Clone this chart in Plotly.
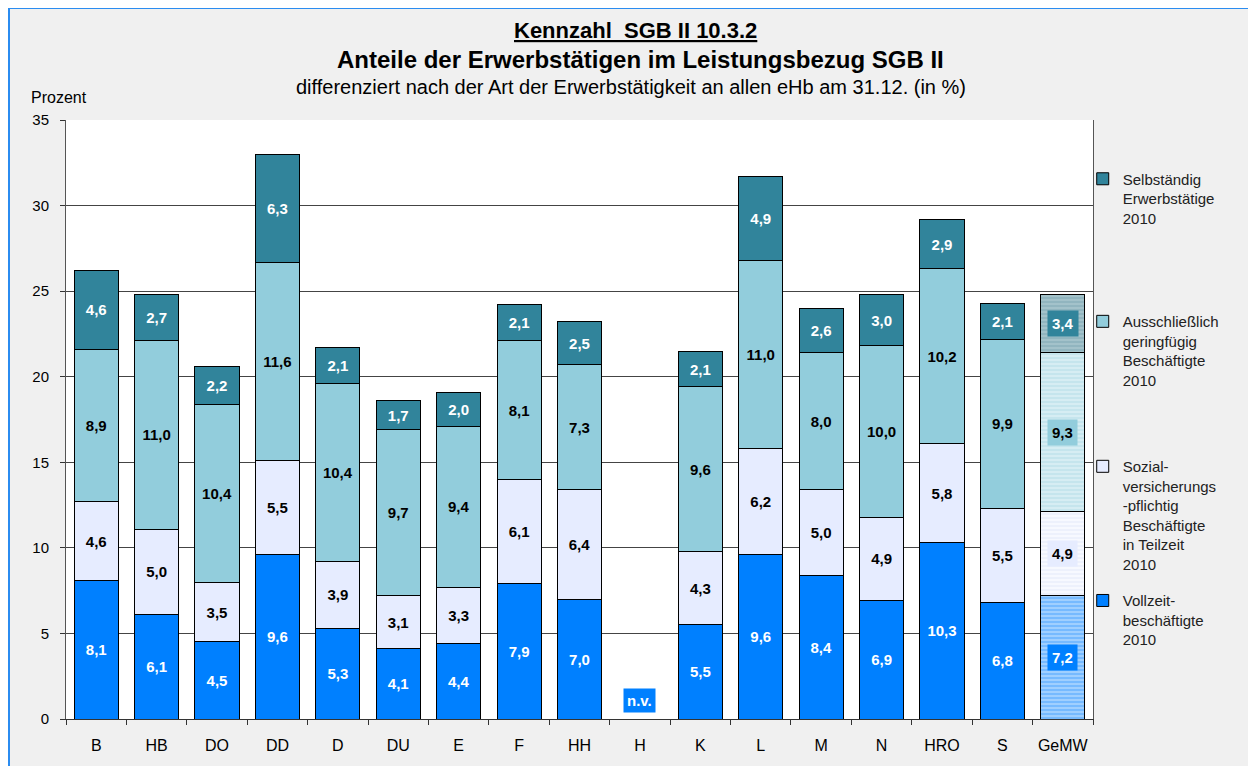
import plotly.graph_objects as go

cats = ['B', 'HB', 'DO', 'DD', 'D', 'DU', 'E', 'F', 'HH', 'H', 'K', 'L', 'M', 'N', 'HRO', 'S', 'GeMW']
vollzeit = [8.1, 6.1, 4.5, 9.6, 5.3, 4.1, 4.4, 7.9, 7.0, None, 5.5, 9.6, 8.4, 6.9, 10.3, 6.8, 7.2]
teilzeit = [4.6, 5.0, 3.5, 5.5, 3.9, 3.1, 3.3, 6.1, 6.4, None, 4.3, 6.2, 5.0, 4.9, 5.8, 5.5, 4.9]
geringf = [8.9, 11.0, 10.4, 11.6, 10.4, 9.7, 9.4, 8.1, 7.3, None, 9.6, 11.0, 8.0, 10.0, 10.2, 9.9, 9.3]
selbst = [4.6, 2.7, 2.2, 6.3, 2.1, 1.7, 2.0, 2.1, 2.5, None, 2.1, 4.9, 2.6, 3.0, 2.9, 2.1, 3.4]

names = ['Vollzeit-<br>beschäftigte<br>2010',
         'Sozial-<br>versicherungs<br>-pflichtig<br>Beschäftigte<br>in Teilzeit<br>2010',
         'Ausschließlich<br>geringfügig<br>Beschäftigte<br>2010',
         'Selbständig<br>Erwerbstätige<br>2010']

FONT = 'Liberation Sans, Arial, sans-serif'
series = [
    # values, color, text color, stripe bg, stripe fg, legend, legend y
    (vollzeit, '#0080FF', 'white', '#9FCFFF', '#4DA6FF', 'legend4', 0.225),
    (teilzeit, '#E6ECFF', 'black', '#F7F9FF', '#E3EAFA', 'legend3', 0.449),
    (geringf, '#92CDDC', 'black', '#D6EDF3', '#B4DDE8', 'legend2', 0.691),
    (selbst, '#31849B', 'white', '#A3C2CA', '#7FA8B3', 'legend', 0.929),
]


def fmt(v):
    return '' if v is None else f'{v:.1f}'.replace('.', ',')


def py(px):
    # page pixel row -> paper y (plot area spans rows 120..719)
    return (719 - px) / 599


def px_(px):
    # page pixel column -> paper x (plot area spans columns 66..1093)
    return (px - 66) / 1027


fig = go.Figure()
for (vals, col, tcol, sbg, sfg, leg, ly), nm in zip(series, names):
    fig.add_trace(go.Bar(
        x=cats[:-1], y=vals[:-1], name=nm, legend=leg,
        marker=dict(color=col, line=dict(color='black', width=1)),
        text=[fmt(v) for v in vals[:-1]], textposition='inside',
        insidetextanchor='middle', textangle=0, constraintext='none',
        textfont=dict(family=FONT, size=15, color=tcol, weight='bold'),
    ))
for (vals, col, tcol, sbg, sfg, leg, ly), nm in zip(series, names):
    fig.add_trace(go.Bar(
        x=cats[-1:], y=vals[-1:], showlegend=False,
        marker=dict(color=sbg, line=dict(color='black', width=1),
                    pattern=dict(shape='-', fgcolor=sfg, size=4, solidity=0.5)),
    ))

# boxed labels on the GeMW bar
base = 0
for vals, col, tcol, *_ in series:
    v = vals[-1]
    fig.add_annotation(x='GeMW', y=base + v / 2, text='<b>' + fmt(v) + '</b>',
                       showarrow=False, bgcolor=col, borderpad=4,
                       font=dict(family=FONT, size=15, color=tcol))
    base += v

fig.add_annotation(x='H', y=1.1, text='<b>n.v.</b>', showarrow=False,
                   bgcolor='#0080FF', borderpad=3,
                   font=dict(family=FONT, size=15, color='white'))

# titles
fig.add_annotation(xref='paper', yref='paper', x=px_(635), y=py(31), yanchor='middle',
                   text='<u><b>Kennzahl\u00a0\u00a0SGB II 10.3.2</b></u>', showarrow=False,
                   font=dict(family=FONT, size=22, color='black'))
fig.add_annotation(xref='paper', yref='paper', x=px_(640), y=py(60), yanchor='middle',
                   text='<b>Anteile der Erwerbstätigen im Leistungsbezug SGB II</b>', showarrow=False,
                   font=dict(family=FONT, size=24, color='black'))
fig.add_annotation(xref='paper', yref='paper', x=px_(631), y=py(87), yanchor='middle',
                   text='differenziert nach der Art der Erwerbstätigkeit an allen eHb am 31.12. (in %)',
                   showarrow=False, font=dict(family=FONT, size=20, color='black'))
fig.add_annotation(xref='paper', yref='paper', x=px_(29), y=py(98), yanchor='middle',
                   xanchor='left', text='Prozent', showarrow=False,
                   font=dict(family=FONT, size=16, color='black'))

shapes = [
    dict(type='line', xref='paper', yref='y', x0=0, x1=1, y0=35, y1=35,
         line=dict(color='white', width=2)),
    dict(type='rect', xref='paper', yref='paper', x0=px_(9), x1=px_(1254),
         y0=py(800), y1=py(8), fillcolor='rgba(0,0,0,0)',
         line=dict(color='#2B8CF0', width=2)),
]

layout_legends = {}
for vals, col, tcol, sbg, sfg, leg, ly in series:
    layout_legends[leg] = dict(x=0.990, y=ly, xanchor='left', yanchor='top', valign='top',
                               bgcolor='rgba(0,0,0,0)', itemwidth=30,
                               font=dict(family=FONT, size=15, color='#222222'))

# the page body adds an 8px margin, so the figure is 8px smaller than the window
fig.update_layout(
    width=1248, height=758,
    barmode='stack', bargap=0.27,
    paper_bgcolor='#F0F0F0', plot_bgcolor='white',
    margin=dict(l=58, r=163, t=112, b=47, autoexpand=False),
    font=dict(family=FONT, size=15, color='black'),
    shapes=shapes,
    **layout_legends,
)
fig.update_xaxes(type='category', showline=True, linecolor='#333333', linewidth=1,
                 ticks='outside', tickson='boundaries', ticklen=5, tickcolor='#333333',
                 ticklabelstandoff=12,
                 tickfont=dict(family=FONT, size=16, color='black'), showgrid=False)
fig.update_yaxes(range=[0, 35], dtick=5, showline=True, mirror=True, linecolor='#555555',
                 ticks='outside', ticklen=5, tickcolor='#333333', gridcolor='#444444',
                 gridwidth=1, zeroline=False, ticklabelstandoff=8,
                 tickfont=dict(family=FONT, size=15, color='black'))

fig.write_html('out.html')
